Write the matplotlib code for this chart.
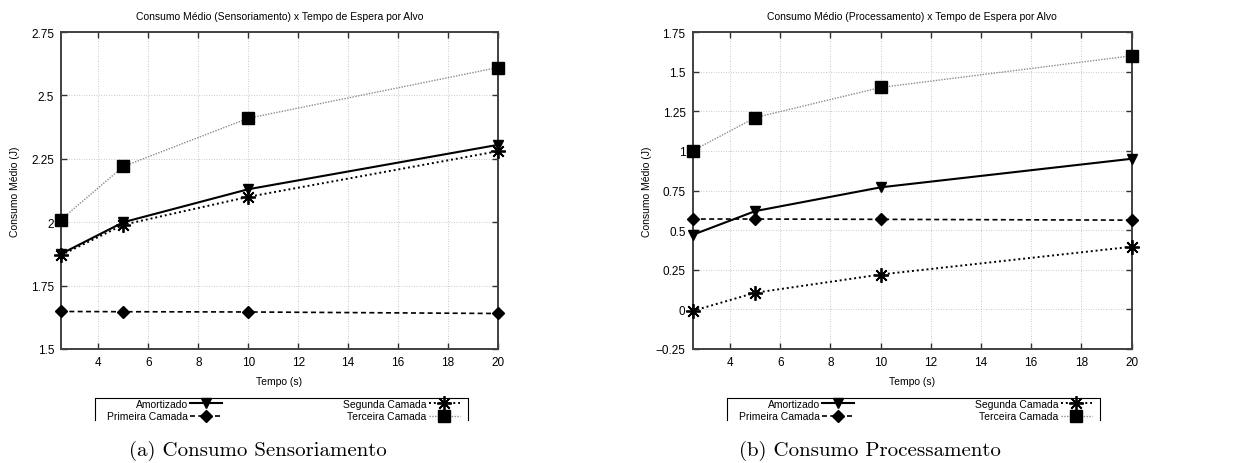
import matplotlib
matplotlib.use("Agg")
import matplotlib.pyplot as plt
from matplotlib.lines import Line2D
from matplotlib.ticker import FuncFormatter

# tempo de espera por alvo (s)
tempo = [2.5, 5, 10, 20]

# consumo medio - sensoriamento
sens_amortizado = [1.875, 2.0, 2.13, 2.305]
sens_primeira = [1.648, 1.647, 1.646, 1.640]
sens_segunda = [1.870, 1.99, 2.10, 2.28]
sens_terceira = [2.01, 2.22, 2.41, 2.61]

# consumo medio - processamento
proc_amortizado = [0.47, 0.62, 0.77, 0.95]
proc_primeira = [0.570, 0.570, 0.568, 0.563]
proc_segunda = [-0.01, 0.105, 0.22, 0.395]
proc_terceira = [1.0, 1.21, 1.40, 1.60]

xticks = [4, 6, 8, 10, 12, 14, 16, 18, 20]
sens_yticks = [1.5, 1.75, 2.0, 2.25, 2.5, 2.75]
proc_yticks = [-0.25, 0, 0.25, 0.5, 0.75, 1.0, 1.25, 1.5, 1.75]

labels = ["Amortizado", "Primeira Camada", "Segunda Camada", "Terceira Camada"]

plt.rcParams['font.family'] = ['Liberation Sans', 'DejaVu Sans']
plt.rcParams['font.size'] = 7.5

W, H = 1238, 464
fig = plt.figure(figsize=(W / 100, H / 100), dpi=100)


def fmt(v, pos):
    s = '%g' % v
    return s.replace('-', '\u2212')


def draw_panel(rect, title, series, yticks, caption, cap_x, leg_box):
    ax = fig.add_axes(rect)
    amort, prim, seg, terc = series
    ax.plot(tempo, amort, color='black', lw=1.5, marker='v', ms=7,
            label=labels[0], clip_on=False, zorder=4)
    ax.plot(tempo, prim, color='black', lw=1.2, ls=(0, (3, 2)), marker='D',
            ms=6, label=labels[1], clip_on=False, zorder=3)
    ax.plot(tempo, seg, color='black', lw=1.4, ls=(0, (1, 1.5)),
            marker=(8, 2, 0), ms=10.5, mew=1.3, label=labels[2],
            clip_on=False, zorder=3)
    ax.plot(tempo, terc, color='#8c8c8c', lw=1.0, ls=(0, (1, 1)), marker='s',
            ms=8, mfc='black', mec='black', label=labels[3], clip_on=False,
            zorder=3)

    ax.set_xlim(2.5, 20)
    ax.set_ylim(yticks[0], yticks[-1])
    ax.set_xticks(xticks)
    ax.set_yticks(yticks)
    ax.yaxis.set_major_formatter(FuncFormatter(fmt))
    ax.grid(True, ls=(0, (1, 2)), color='#b8b8b8', lw=0.6)
    ax.tick_params(direction='in', length=4, width=1, top=True, right=True,
                   color='#303030', labelsize=8.5, pad=5)
    for s in ax.spines.values():
        s.set_linewidth(1.4)
        s.set_color('#404040')

    ax.set_title(title, fontsize=7.5, pad=9)
    ax.set_xlabel('Tempo (s)', fontsize=7.5, labelpad=6)
    ax.set_ylabel('Consumo Médio (J)', fontsize=7.5)
    ax.yaxis.set_label_coords(-41 / (rect[2] * W), 0.5)

    # legenda no estilo gnuplot (texto a esquerda, amostra a direita)
    x0, y0, x1, y1 = leg_box
    handles, labs = ax.get_legend_handles_labels()
    fig.legend(handles, labs,
               ncol=2, markerfirst=False, mode='expand', frameon=False,
               bbox_to_anchor=((x0 + 12) / W, 1 - (y1 + 1) / H,
                               (x1 - x0 - 20) / W, (y1 - y0) / H),
               loc='center', fontsize=7.5, handlelength=3.0,
               handletextpad=0.25, labelspacing=0.25, borderpad=0.0,
               borderaxespad=0.0, columnspacing=1.0)
    fig.add_artist(Line2D([x0 / W, x0 / W, x1 / W, x1 / W],
                          [1 - y1 / H, 1 - y0 / H, 1 - y0 / H, 1 - y1 / H],
                          transform=fig.transFigure, color='black', lw=0.8))

    fig.text(cap_x / W, 1 - 451 / H, caption, ha='center', va='center',
             fontsize=15, family=['cmr10', 'DejaVu Serif'])
    return ax


top, bottom = 33, 350
draw_panel([61 / W, 1 - bottom / H, (498 - 61) / W, (bottom - top) / H],
           'Consumo Médio (Sensoriamento) x Tempo de Espera por Alvo',
           (sens_amortizado, sens_primeira, sens_segunda, sens_terceira),
           sens_yticks, '(a) Consumo Sensoriamento', 258,
           (95, 399, 468, 421))
draw_panel([692.5 / W, 1 - bottom / H, (1131.5 - 692.5) / W, (bottom - top) / H],
           'Consumo Médio (Processamento) x Tempo de Espera por Alvo',
           (proc_amortizado, proc_primeira, proc_segunda, proc_terceira),
           proc_yticks, '(b) Consumo Processamento', 870,
           (727, 399, 1100, 421))

fig.savefig('out.png', dpi=100, facecolor='white')
